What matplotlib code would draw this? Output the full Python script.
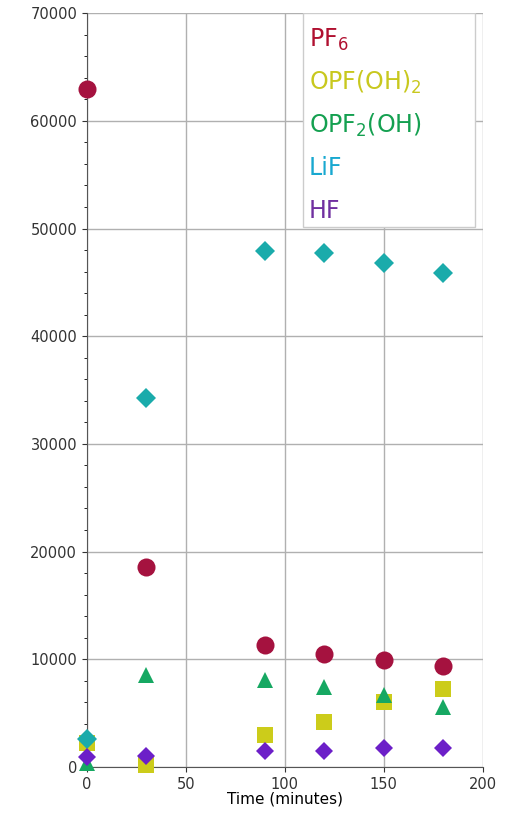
import matplotlib.pyplot as plt
from matplotlib.ticker import MultipleLocator

time = [0, 30, 90, 120, 150, 180]
pf6 = [63000, 18600, 11300, 10500, 9900, 9400]
opf_oh2 = [2200, 200, 3000, 4200, 6000, 7200]
opf2_oh = [400, 8500, 8100, 7400, 6700, 5600]
lif = [2600, 34300, 47900, 47700, 46800, 45900]
hf = [900, 1000, 1500, 1500, 1800, 1800]

series = [
    (pf6, 'o', '#a5123f', '#b01030', r'PF$_6$', 13),
    (opf_oh2, 's', '#cccc1a', '#c8c81e', r'OPF(OH)$_2$', 12),
    (opf2_oh, '^', '#16a862', '#14a050', r'OPF$_2$(OH)', 12),
    (lif, 'D', '#1aabab', '#18a8d0', 'LiF', 10),
    (hf, 'D', '#6c1fc8', '#7030a0', 'HF', 9),
]

fig = plt.figure(figsize=(5.05, 8.22), dpi=100)
ax = fig.add_axes([0.172, 0.067, 0.784, 0.917])

for vals, m, c, tc, lab, ms in series:
    ax.plot(time, vals, m, color=c, markersize=ms, markeredgewidth=0, clip_on=False, zorder=3)

ax.set_xlim(0, 200)
ax.set_ylim(0, 70000)
ax.xaxis.set_major_locator(MultipleLocator(50))
ax.yaxis.set_major_locator(MultipleLocator(10000))
ax.yaxis.set_minor_locator(MultipleLocator(2000))
ax.grid(True, color='#b0b0b0', lw=1)
ax.set_axisbelow(True)
for s in ['top', 'right']:
    ax.spines[s].set_visible(False)
ax.spines['left'].set_color('#555555')
ax.spines['bottom'].set_color('#555555')
ax.tick_params(labelsize=10.5, colors='#333333')
ax.set_xlabel('Time (minutes)', fontsize=11, labelpad=0)

# legend box with colored text
ax.add_patch(plt.Rectangle((0.545, 0.716), 0.435, 0.284, transform=ax.transAxes,
                           facecolor='white', edgecolor='#cccccc', zorder=4))
for i, (vals, m, c, tc, lab, ms) in enumerate(series):
    ax.text(0.56, 0.965 - i * 0.057, lab, transform=ax.transAxes, color=tc,
            fontsize=17, va='center', zorder=5)

fig.savefig('out.png', dpi=100)
